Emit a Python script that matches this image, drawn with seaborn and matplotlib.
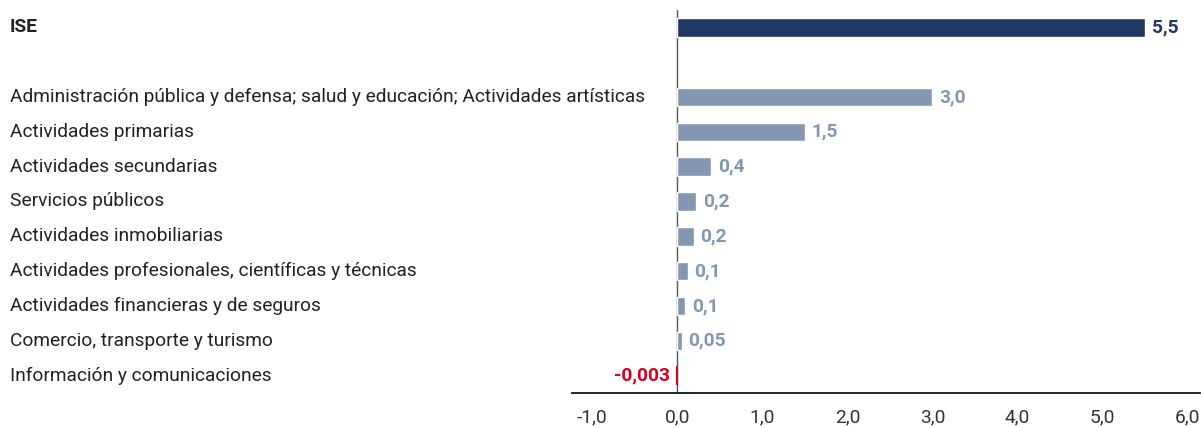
import numpy as np
import pandas as pd
import matplotlib
matplotlib.use("Agg")
import matplotlib.pyplot as plt
import matplotlib.transforms as mtransforms
import seaborn as sns

# categories (the blank one keeps the gap under ISE)
categories = ["ISE", " ",
              "Administración pública y defensa; salud y educación; Actividades artísticas",
              "Actividades primarias",
              "Actividades secundarias",
              "Servicios públicos",
              "Actividades inmobiliarias",
              "Actividades profesionales, científicas y técnicas",
              "Actividades financieras y de seguros",
              "Comercio, transporte y turismo",
              "Información y comunicaciones"]
values = [5.5, np.nan, 3.0, 1.5, 0.4, 0.22, 0.19, 0.12, 0.09, 0.05, -0.003]
value_labels = ["5,5", "", "3,0", "1,5", "0,4", "0,2", "0,2", "0,1", "0,1", "0,05", "-0,003"]
xticks = [-1, 0, 1, 2, 3, 4, 5, 6]
xtick_labels = ["-1,0", "0,0", "1,0", "2,0", "3,0", "4,0", "5,0", "6,0"]

navy = "#1f3864"
greyblue = "#8497b0"
red = "#d7001e"

def pick_color(cat, v):
    if cat == "ISE":
        return navy
    if v < 0:
        return red
    return greyblue

colors = {c: pick_color(c, v) for c, v in zip(categories, values)}
df = pd.DataFrame({"cat": categories, "val": values})

sns.set_style("white")
plt.rcParams["font.family"] = ["Roboto", "DejaVu Sans"]
fs = 13.8

fig = plt.figure(figsize=(12.01, 4.28), dpi=100)
ax = fig.add_axes([572 / 1201, 1 - 393 / 428, (1200 - 572) / 1201, (393 - 10) / 428])

sns.barplot(data=df, x="val", y="cat", hue="cat", order=categories,
            palette=colors, legend=False, width=0.53, orient="h", ax=ax,
            saturation=1, errorbar=None)

# the tiny negative bar gets an outline so it stays visible
for p in ax.patches:
    if p.get_width() < 0:
        p.set_edgecolor(red)
        p.set_linewidth(1.5)

ax.set_xlim(-1.24, 6.15)
ax.set_ylim(10.5, -0.5)
ax.set_xticks(xticks)
ax.set_xticklabels(xtick_labels, fontsize=fs, color="#333333")
ax.tick_params(axis="x", length=0, pad=11)
ax.set_yticks([])
ax.set_xlabel("")
ax.set_ylabel("")
for s in ["top", "right", "left"]:
    ax.spines[s].set_visible(False)
ax.spines["bottom"].set_color("#111111")
ax.spines["bottom"].set_linewidth(1.3)
ax.axvline(0, color="#555555", lw=1.0, zorder=0)

# category names at the left edge of the figure
trans = mtransforms.blended_transform_factory(fig.transFigure, ax.transData)
for i, cat in enumerate(categories):
    if cat.strip() == "":
        continue
    ax.text(10 / 1201, i, cat, transform=trans, ha="left", va="center",
            fontsize=fs, color="#222222",
            fontweight="bold" if cat == "ISE" else "normal")

# value labels
for i, (v, lab) in enumerate(zip(values, value_labels)):
    if lab == "":
        continue
    c = colors[categories[i]]
    if v < 0:
        ax.text(v - 0.08, i, lab, ha="right", va="center", fontsize=fs,
                fontweight="bold", color=c)
    else:
        ax.text(v + 0.08, i, lab, ha="left", va="center", fontsize=fs,
                fontweight="bold", color=c)

fig.savefig("out.png", dpi=100)
